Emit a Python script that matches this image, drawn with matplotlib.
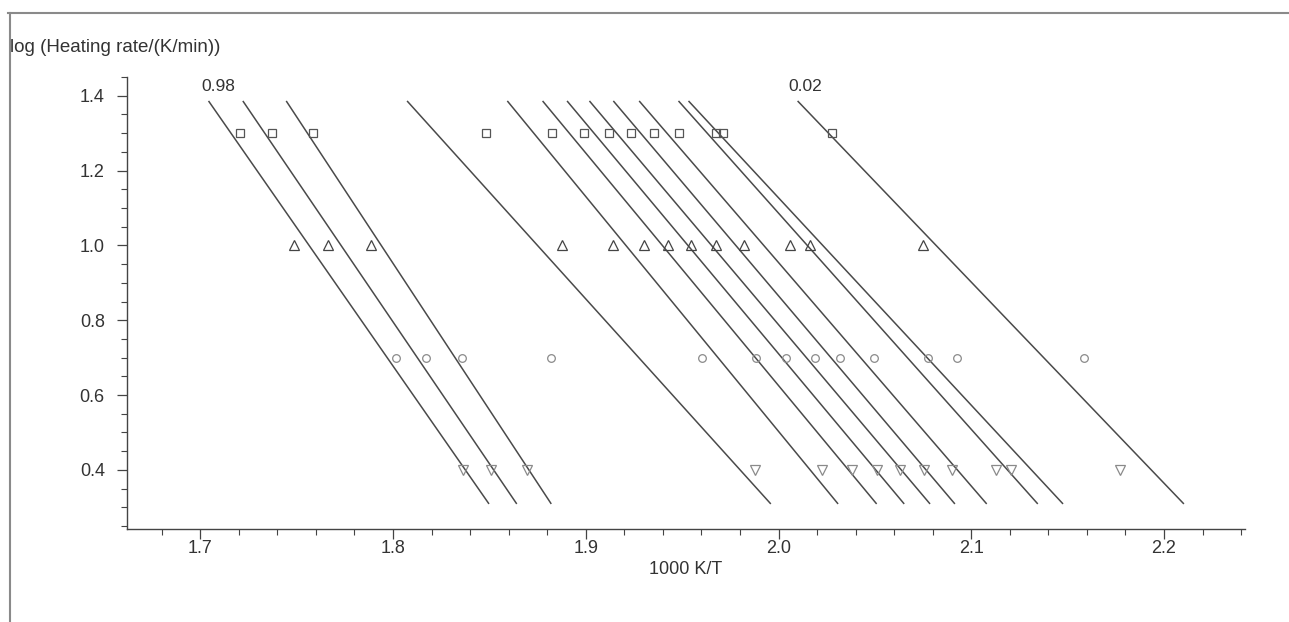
import matplotlib
matplotlib.use("Agg")
import matplotlib.pyplot as plt
from matplotlib.ticker import MultipleLocator, FormatStrFormatter
from matplotlib.lines import Line2D

plt.rcParams["font.family"] = ["Liberation Sans", "DejaVu Sans"]

# log(heating rate) of the four measurement rows
log_rate = [1.3, 1.0, 0.7, 0.4]

# 1000 K/T of the points in each row (one point per iso-conversion line)
x_square = [1.7207, 1.7373, 1.7585, 1.8482, 1.8824, 1.8990, 1.9119,
            1.9233, 1.9352, 1.9482, 1.9674, 1.9710, 2.0280]
x_tri_up = [1.7487, 1.7663, 1.7886, 1.8876, 1.9140, 1.9301, 1.9425,
            1.9544, 1.9674, 1.9819, 2.0057, 2.0161, 2.0751]
x_circle = [1.8016, 1.8171, 1.8358, 1.8819, 1.9601, 1.9881, 2.0041,
            2.0187, 2.0321, 2.0497, 2.0777, 2.0927, 2.1585]
x_tri_down = [1.8363, 1.8508, 1.8694, 1.9876, 2.0228, 2.0383, 2.0513,
              2.0632, 2.0756, 2.0902, 2.1130, 2.1207, 2.1772]

# iso-conversion lines: end points
line_y = [1.386, 0.309]
line_x_top = [1.7043, 1.7221, 1.7446, 1.8073, 1.8593, 1.8776, 1.8903,
              1.9019, 1.9143, 1.9277, 1.9481, 1.9533, 2.0099]
line_x_bottom = [1.8498, 1.8642, 1.8821, 1.9960, 2.0309, 2.0509, 2.0652,
                 2.0786, 2.0915, 2.1080, 2.1345, 2.1476, 2.2103]

first_label = "0.98"
last_label = "0.02"

W, H = 1289, 622
fig = plt.figure(figsize=(W / 100, H / 100), dpi=100)
ax = fig.add_axes([127 / W, 1 - 529 / H, (1245 - 127) / W, (529 - 77) / H])

text_color = "#333333"
line_color = "#4a4a4a"

for xt, xb in zip(line_x_top, line_x_bottom):
    ax.plot([xt, xb], line_y, color=line_color, lw=1.1, solid_capstyle="butt")

marker_rows = [
    (x_square, log_rate[0], "s", 6, "#555555"),
    (x_tri_up, log_rate[1], "^", 6.5, "#444444"),
    (x_circle, log_rate[2], "o", 5.5, "#8a8a8a"),
    (x_tri_down, log_rate[3], "v", 6.5, "#8a8a8a"),
]
for xs, yv, mk, ms, col in marker_rows:
    ax.plot(xs, [yv] * len(xs), linestyle="none", marker=mk, markersize=ms,
            markerfacecolor="none", markeredgecolor=col, markeredgewidth=0.9)

ax.text(line_x_top[0] + 0.005, 1.425, first_label, fontsize=12.5,
        color=text_color, ha="center", va="center")
ax.text(line_x_top[-1] + 0.004, 1.425, last_label, fontsize=12.5,
        color=text_color, ha="center", va="center")

ax.set_xlim(1.662, 2.242)
ax.set_ylim(0.242, 1.45)

ax.xaxis.set_major_locator(MultipleLocator(0.1))
ax.xaxis.set_minor_locator(MultipleLocator(0.02))
ax.yaxis.set_major_locator(MultipleLocator(0.2))
ax.yaxis.set_minor_locator(MultipleLocator(0.05))
ax.xaxis.set_major_formatter(FormatStrFormatter("%.1f"))
ax.yaxis.set_major_formatter(FormatStrFormatter("%.1f"))

for side in ["top", "right"]:
    ax.spines[side].set_visible(False)
for side in ["left", "bottom"]:
    ax.spines[side].set_color("#444444")
    ax.spines[side].set_linewidth(1.0)

ax.tick_params(which="major", length=7, width=0.9, colors="#444444",
               labelsize=13, labelcolor=text_color)
ax.tick_params(which="minor", length=4, width=0.8, colors="#444444")
ax.tick_params(axis="x", which="major", pad=1)
ax.tick_params(axis="y", which="major", pad=9)

ax.set_xlabel("1000 K/T", fontsize=13, color=text_color, labelpad=3)

fig.text(10 / W, 1 - 47 / H, "log (Heating rate/(K/min))", fontsize=13.5,
         color=text_color, ha="left", va="center")

# window frame lines of the original screenshot
fig.add_artist(Line2D([8 / W, 1.0], [1 - 13 / H, 1 - 13 / H],
                      transform=fig.transFigure, color="#8a8a8a", lw=1.5))
fig.add_artist(Line2D([10 / W, 10 / W], [1 - 13 / H, 0.0],
                      transform=fig.transFigure, color="#8a8a8a", lw=1.5))

fig.savefig("out.png", dpi=100, facecolor="white")
